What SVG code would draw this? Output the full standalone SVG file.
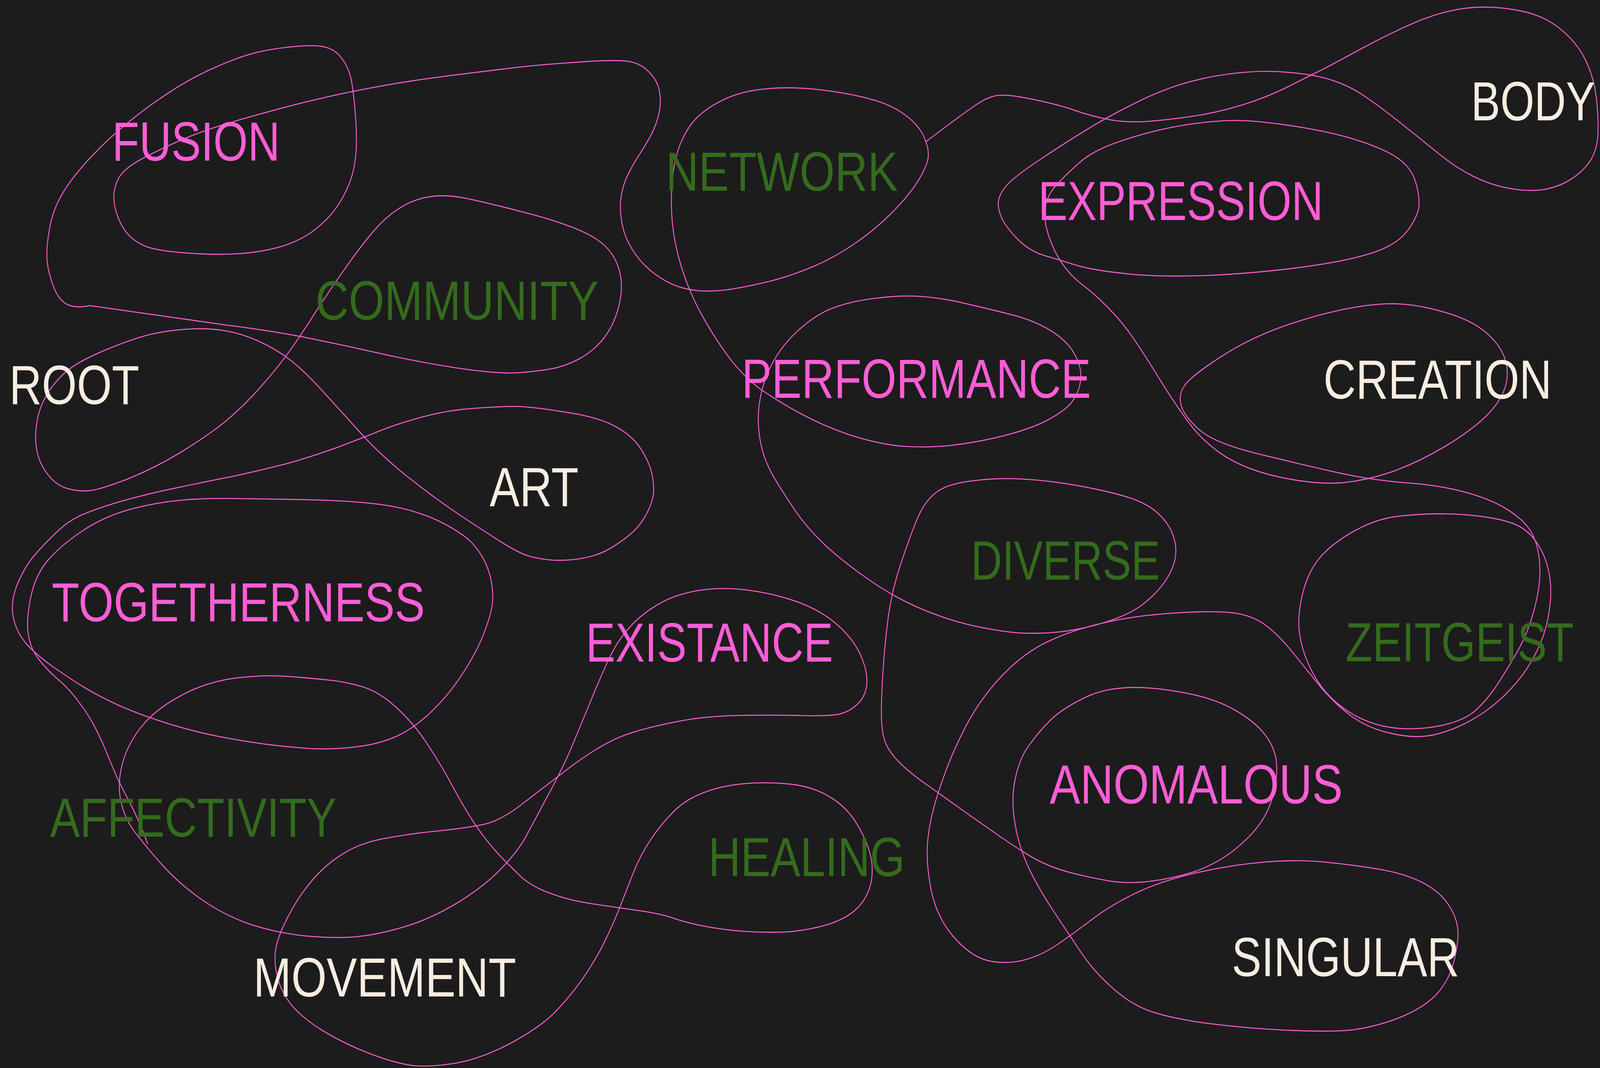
<svg xmlns="http://www.w3.org/2000/svg" width="4640" height="2733" viewBox="0 0 4640 2733" preserveAspectRatio="none" style="width:100%;height:100%;display:block">
<style>
.w{font-family:"Liberation Sans",Arial,Helvetica,sans-serif;font-size:141px;}
.p{fill:#ff5dd6;}
.g{fill:#346b1d;}
.c{fill:#f7ede1;}
.ln{fill:none;stroke:#ff5dd6;stroke-width:2.6;stroke-linecap:round;stroke-linejoin:round;}
</style>
<rect width="4640" height="2733" fill="#1c1c1c"/>
<g id="connectors">
<path class="ln" d="M260,782 Q220,790 195,779 Q170,768 155,733 Q140,697 137,670 Q133,643 142,594 Q150,545 175,505 Q200,464 250,415 Q300,366 360,322 Q420,277 490,237 Q560,196 630,170 Q700,143 750,133 Q800,123 855,119 Q910,114 940,120 Q970,125 990,148 Q1010,170 1018,201 Q1025,232 1030,286 Q1035,339 1033,384 Q1030,429 1015,465 Q1000,500 975,532 Q950,563 910,590 Q870,616 815,631 Q760,645 695,649 Q630,653 550,648 Q470,643 435,634 Q400,625 375,603 Q350,580 338,545 Q325,509 333,482 Q340,455 360,438 Q380,420 430,398 Q480,375 540,353 Q600,330 725,299 Q850,268 925,253 Q1000,237 1100,221 Q1200,205 1300,194 Q1400,183 1484,174 Q1568,165 1677,159 Q1786,152 1821,157 Q1856,161 1881,183 Q1906,205 1912,232 Q1918,259 1912,286 Q1906,313 1891,340 Q1876,366 1856,393 Q1836,420 1821,447 Q1806,473 1801,505 Q1796,536 1804,572 Q1811,607 1834,639 Q1856,670 1886,692 Q1916,714 1951,728 Q1986,741 2026,744 Q2066,747 2121,740 Q2176,732 2236,719 Q2296,705 2356,683 Q2416,661 2476,625 Q2536,589 2586,545 Q2636,500 2661,465 Q2686,429 2691,407 Q2696,384 2681,353 Q2666,321 2626,295 Q2586,268 2526,254 Q2466,239 2381,230 Q2296,221 2226,227 Q2156,232 2106,252 Q2056,272 2026,297 Q1996,321 1976,362 Q1956,402 1950,460 Q1944,518 1950,572 Q1956,625 1976,683 Q1996,741 2031,799 Q2066,857 2111,911 Q2156,964 2206,996 Q2256,1027 2321,1058 Q2386,1089 2461,1112 Q2536,1134 2606,1141 Q2676,1147 2756,1140 Q2836,1132 2911,1115 Q2986,1098 3031,1078 Q3076,1058 3099,1038 Q3122,1018 3131,987 Q3140,955 3126,924 Q3112,893 3086,872 Q3060,850 3020,833 Q2980,815 2923,803 Q2866,790 2801,777 Q2736,763 2676,759 Q2616,755 2551,762 Q2486,768 2436,782 Q2386,795 2341,826 Q2296,857 2266,893 Q2236,929 2220,969 Q2204,1009 2200,1049 Q2196,1089 2206,1134 Q2216,1179 2246,1224 Q2276,1268 2308,1309 Q2340,1350 2388,1391 Q2436,1431 2511,1478 Q2586,1525 2661,1554 Q2736,1583 2811,1599 Q2886,1614 2946,1619 Q3006,1623 3073,1617 Q3140,1610 3206,1592 Q3272,1574 3312,1548 Q3352,1521 3377,1490 Q3402,1458 3408,1429 Q3414,1400 3402,1370 Q3390,1340 3360,1315 Q3330,1290 3280,1275 Q3229,1260 3140,1245 Q3050,1230 2968,1226 Q2886,1222 2815,1231 Q2743,1239 2712,1262 Q2680,1285 2660,1328 Q2640,1370 2613,1441 Q2586,1512 2576,1579 Q2566,1646 2561,1713 Q2556,1780 2556,1825 Q2556,1869 2566,1896 Q2576,1922 2606,1949 Q2636,1976 2686,2007 Q2736,2038 2786,2070 Q2836,2101 2886,2132 Q2936,2163 2986,2190 Q3036,2217 3104,2233 Q3172,2248 3222,2255 Q3272,2262 3337,2255 Q3402,2248 3462,2231 Q3522,2213 3572,2180 Q3622,2146 3652,2110 Q3682,2074 3695,2025 Q3707,1976 3700,1940 Q3692,1904 3662,1873 Q3632,1842 3577,1815 Q3522,1788 3447,1775 Q3372,1762 3322,1760 Q3272,1757 3222,1764 Q3172,1771 3122,1796 Q3072,1820 3044,1845 Q3016,1869 2986,1905 Q2956,1940 2944,1994 Q2931,2047 2944,2110 Q2956,2172 2986,2226 Q3016,2280 3060,2338 Q3104,2396 3138,2441 Q3172,2485 3222,2525 Q3272,2565 3322,2583 Q3372,2601 3472,2615 Q3572,2628 3702,2635 Q3832,2641 3902,2637 Q3972,2632 4047,2608 Q4122,2583 4162,2548 Q4202,2512 4217,2458 Q4232,2404 4227,2373 Q4222,2342 4197,2311 Q4172,2279 4122,2257 Q4072,2235 3997,2224 Q3922,2213 3842,2206 Q3762,2199 3667,2206 Q3572,2213 3472,2233 Q3372,2253 3297,2284 Q3222,2315 3162,2356 Q3102,2396 3058,2422 Q3014,2447 2964,2458 Q2914,2468 2864,2458 Q2814,2447 2764,2396 Q2714,2344 2699,2271 Q2683,2197 2692,2139 Q2700,2080 2729,2007 Q2757,1933 2800,1860 Q2843,1787 2907,1728 Q2971,1669 3043,1640 Q3114,1611 3200,1594 Q3286,1576 3400,1569 Q3514,1562 3573,1568 Q3632,1574 3672,1601 Q3712,1628 3752,1673 Q3792,1717 3831,1759 Q3870,1800 3915,1830 Q3960,1860 4021,1874 Q4082,1888 4131,1884 Q4180,1880 4240,1855 Q4300,1830 4350,1790 Q4400,1750 4431,1707 Q4462,1663 4477,1623 Q4492,1583 4496,1539 Q4500,1494 4490,1457 Q4480,1420 4460,1393 Q4440,1365 4410,1349 Q4380,1333 4315,1324 Q4250,1315 4190,1315 Q4130,1314 4065,1320 Q4000,1325 3940,1353 Q3880,1380 3840,1415 Q3800,1450 3782,1505 Q3764,1560 3767,1605 Q3770,1650 3795,1700 Q3820,1750 3860,1785 Q3900,1820 3950,1840 Q4000,1860 4057,1864 Q4114,1868 4177,1857 Q4240,1846 4275,1821 Q4310,1795 4345,1748 Q4380,1700 4405,1660 Q4430,1620 4446,1570 Q4462,1520 4465,1480 Q4468,1440 4459,1405 Q4450,1370 4430,1348 Q4410,1325 4366,1301 Q4322,1277 4247,1259 Q4172,1241 4072,1235 Q3972,1228 3872,1208 Q3772,1188 3647,1161 Q3522,1134 3477,1099 Q3432,1063 3425,1036 Q3417,1009 3435,987 Q3452,964 3537,915 Q3622,866 3722,835 Q3822,804 3912,789 Q4002,774 4062,778 Q4122,781 4197,801 Q4272,821 4312,853 Q4352,884 4365,920 Q4377,955 4365,991 Q4352,1027 4312,1063 Q4272,1098 4197,1139 Q4122,1179 4047,1204 Q3972,1228 3897,1235 Q3822,1241 3722,1223 Q3622,1205 3557,1170 Q3492,1134 3447,1081 Q3402,1027 3362,969 Q3322,911 3287,866 Q3252,821 3212,786 Q3172,750 3138,728 Q3104,705 3080,674 Q3056,643 3041,603 Q3026,563 3031,532 Q3036,500 3064,473 Q3092,446 3132,415 Q3172,384 3247,362 Q3322,339 3397,326 Q3472,313 3547,309 Q3622,305 3747,322 Q3872,339 3947,362 Q4022,384 4057,407 Q4092,429 4105,465 Q4117,500 4115,527 Q4112,554 4082,590 Q4052,625 3987,645 Q3922,665 3797,681 Q3672,697 3522,704 Q3372,710 3272,701 Q3172,692 3122,679 Q3072,665 3029,654 Q2986,643 2951,612 Q2916,580 2905,558 Q2894,536 2895,518 Q2896,500 2916,478 Q2936,455 3020,406 Q3104,357 3153,331 Q3202,304 3287,266 Q3372,228 3447,210 Q3522,192 3597,186 Q3672,179 3747,186 Q3822,192 3872,208 Q3922,223 3972,255 Q4022,286 4072,322 Q4122,357 4172,393 Q4222,429 4272,451 Q4322,473 4377,482 Q4432,491 4477,485 Q4522,478 4557,458 Q4592,438 4612,411 Q4632,384 4634,342 Q4636,300 4629,248 Q4622,196 4597,152 Q4572,107 4522,72 Q4472,36 4392,25 Q4312,13 4242,22 Q4172,31 4097,60 Q4022,89 3947,125 Q3872,161 3837,177 Q3802,192 3737,221 Q3672,250 3597,270 Q3522,290 3447,299 Q3372,308 3322,311 Q3272,314 3222,307 Q3172,299 3122,284 Q3072,268 2999,255 Q2926,241 2896,244 Q2866,246 2826,271 Q2786,295 2686,362"/>
<path class="ln" d="M260,782 Q500,813 650,831 Q800,848 900,866 Q1000,884 1100,904 Q1200,924 1320,941 Q1440,957 1500,954 Q1560,950 1598,944 Q1636,938 1676,920 Q1716,902 1746,871 Q1776,839 1791,795 Q1806,750 1801,715 Q1796,679 1776,652 Q1756,625 1721,607 Q1686,589 1636,574 Q1586,558 1518,543 Q1450,527 1375,512 Q1300,496 1250,503 Q1200,509 1160,532 Q1120,554 1085,590 Q1050,625 1000,688 Q950,750 915,799 Q880,848 840,898 Q800,947 750,996 Q700,1045 650,1081 Q600,1116 525,1157 Q450,1197 375,1224 Q300,1250 265,1255 Q230,1259 195,1250 Q160,1241 135,1210 Q110,1179 105,1143 Q100,1107 110,1067 Q120,1027 150,991 Q180,955 220,933 Q260,911 330,887 Q400,862 450,853 Q500,844 550,842 Q600,839 650,846 Q700,853 750,873 Q800,893 840,920 Q880,947 940,1005 Q1000,1063 1050,1112 Q1100,1161 1175,1215 Q1250,1268 1325,1313 Q1400,1357 1450,1385 Q1500,1413 1530,1422 Q1560,1430 1598,1433 Q1636,1436 1686,1429 Q1736,1422 1776,1400 Q1816,1378 1838,1359 Q1860,1340 1875,1315 Q1890,1290 1894,1270 Q1898,1250 1892,1219 Q1886,1188 1861,1152 Q1836,1116 1786,1092 Q1736,1067 1636,1054 Q1536,1040 1493,1040 Q1450,1040 1375,1045 Q1300,1049 1225,1067 Q1150,1085 1100,1103 Q1050,1121 975,1146 Q900,1170 825,1188 Q750,1205 675,1219 Q600,1232 525,1246 Q450,1259 375,1277 Q300,1295 250,1313 Q200,1330 163,1363 Q125,1395 103,1418 Q80,1440 60,1476 Q40,1512 37,1539 Q33,1565 42,1592 Q50,1619 75,1646 Q100,1672 150,1704 Q200,1735 250,1762 Q300,1788 360,1811 Q420,1833 485,1851 Q550,1869 625,1883 Q700,1896 775,1905 Q850,1913 910,1916 Q970,1918 1035,1911 Q1100,1904 1150,1884 Q1200,1864 1250,1822 Q1300,1780 1340,1726 Q1380,1672 1400,1628 Q1420,1583 1426,1556 Q1432,1529 1426,1494 Q1420,1458 1400,1427 Q1380,1396 1355,1378 Q1330,1360 1290,1341 Q1250,1322 1200,1309 Q1150,1295 1075,1288 Q1000,1281 900,1279 Q800,1277 700,1276 Q600,1274 525,1280 Q450,1286 375,1304 Q300,1322 235,1361 Q170,1400 135,1438 Q100,1476 88,1534 Q75,1592 83,1628 Q90,1663 115,1690 Q140,1717 170,1740 Q200,1762 230,1798 Q260,1833 280,1869 Q300,1904 320,1949 Q340,1994 370,2043 Q400,2092 428,2159"/>
<path class="ln" d="M2151,2006 Q2216,2000 2286,2006 Q2356,2012 2406,2039 Q2456,2065 2486,2110 Q2516,2155 2525,2191 Q2534,2226 2525,2262 Q2516,2297 2486,2324 Q2456,2351 2396,2367 Q2336,2382 2276,2385 Q2216,2387 2151,2383 Q2086,2378 2036,2369 Q1986,2360 1951,2349 Q1916,2338 1851,2330 Q1786,2322 1726,2314 Q1666,2306 1626,2295 Q1586,2284 1561,2273 Q1536,2262 1518,2249 Q1500,2235 1460,2199 Q1420,2163 1385,2119 Q1350,2074 1315,2016 Q1280,1958 1240,1905 Q1200,1851 1150,1811 Q1100,1770 1050,1757 Q1000,1744 950,1740 Q900,1735 835,1731 Q770,1726 685,1735 Q600,1744 525,1780 Q450,1815 410,1860 Q370,1904 355,1954 Q340,2003 350,2048 Q360,2092 390,2128 Q420,2163 470,2213 Q520,2262 585,2302 Q650,2342 725,2365 Q800,2387 885,2395 Q970,2402 1035,2397 Q1100,2391 1175,2371 Q1250,2351 1325,2311 Q1400,2271 1450,2226 Q1500,2181 1525,2141 Q1550,2100 1593,2029 Q1636,1958 1661,1905 Q1686,1851 1711,1798 Q1736,1744 1761,1695 Q1786,1646 1821,1610 Q1856,1574 1906,1548 Q1956,1521 2026,1511 Q2096,1501 2176,1511 Q2256,1521 2321,1543 Q2386,1565 2431,1601 Q2476,1637 2496,1677 Q2516,1717 2514,1749 Q2511,1780 2489,1800 Q2466,1820 2436,1827 Q2406,1833 2321,1831 Q2236,1829 2136,1831 Q2036,1833 1961,1847 Q1886,1860 1836,1874 Q1786,1887 1736,1914 Q1686,1940 1627,1981 Q1568,2021 1509,2061 Q1450,2101 1400,2110 Q1350,2119 1275,2126 Q1200,2132 1125,2144 Q1050,2155 1000,2182 Q950,2208 910,2248 Q870,2288 840,2338 Q810,2387 802,2418 Q793,2449 802,2490 Q810,2530 840,2566 Q870,2601 935,2637 Q1000,2672 1075,2697 Q1150,2722 1200,2727 Q1250,2731 1325,2720 Q1400,2708 1484,2668 Q1568,2628 1612,2588 Q1656,2547 1691,2503 Q1726,2458 1751,2414 Q1776,2369 1796,2325 Q1816,2280 1836,2235 Q1856,2190 1886,2150 Q1916,2110 1951,2079 Q1986,2047 2036,2030 Q2086,2012 2151,2006 Z"/>
</g>
<g id="node-fusion"><text class="w p" x="325" y="411" textLength="487" lengthAdjust="spacingAndGlyphs">FUSION</text></g>
<g id="node-community"><text class="w g" x="915" y="818" textLength="821" lengthAdjust="spacingAndGlyphs">COMMUNITY</text></g>
<g id="node-root"><text class="w c" x="27" y="1034" textLength="377" lengthAdjust="spacingAndGlyphs">ROOT</text></g>
<g id="node-art"><text class="w c" x="1420" y="1295" textLength="258" lengthAdjust="spacingAndGlyphs">ART</text></g>
<g id="node-network"><text class="w g" x="1931" y="488" textLength="673" lengthAdjust="spacingAndGlyphs">NETWORK</text></g>
<g id="node-expression"><text class="w p" x="3011" y="563" textLength="826" lengthAdjust="spacingAndGlyphs">EXPRESSION</text></g>
<g id="node-body"><text class="w c" x="4626" y="308" text-anchor="end" textLength="360" lengthAdjust="spacingAndGlyphs">BODY</text></g>
<g id="node-performance"><text class="w p" x="2151" y="1018" textLength="1013" lengthAdjust="spacingAndGlyphs">PERFORMANCE</text></g>
<g id="node-creation"><text class="w c" x="3838" y="1020" textLength="662" lengthAdjust="spacingAndGlyphs">CREATION</text></g>
<g id="node-diverse"><text class="w g" x="2816" y="1483" textLength="548" lengthAdjust="spacingAndGlyphs">DIVERSE</text></g>
<g id="node-togetherness"><text class="w p" x="150" y="1590" textLength="1082" lengthAdjust="spacingAndGlyphs">TOGETHERNESS</text></g>
<g id="node-existance"><text class="w p" x="1699" y="1693" textLength="717" lengthAdjust="spacingAndGlyphs">EXISTANCE</text></g>
<g id="node-zeitgeist"><text class="w g" x="3902" y="1692" textLength="662" lengthAdjust="spacingAndGlyphs">ZEITGEIST</text></g>
<g id="node-affectivity"><text class="w g" x="145" y="2141" textLength="831" lengthAdjust="spacingAndGlyphs">AFFECTIVITY</text></g>
<g id="node-healing"><text class="w g" x="2054" y="2242" textLength="570" lengthAdjust="spacingAndGlyphs">HEALING</text></g>
<g id="node-anomalous"><text class="w p" x="3044" y="2056" textLength="850" lengthAdjust="spacingAndGlyphs">ANOMALOUS</text></g>
<g id="node-singular"><text class="w c" x="3572" y="2498" textLength="660" lengthAdjust="spacingAndGlyphs">SINGULAR</text></g>
<g id="node-movement"><text class="w c" x="735" y="2550" textLength="762" lengthAdjust="spacingAndGlyphs">MOVEMENT</text></g>
</svg>
